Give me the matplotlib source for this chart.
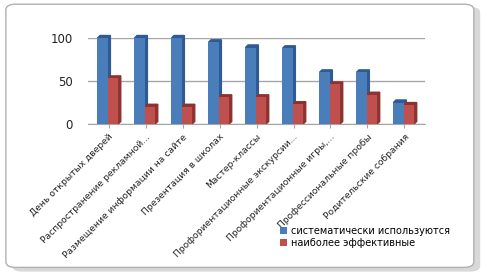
import matplotlib
matplotlib.use("Agg")
import matplotlib.pyplot as plt
from matplotlib.patches import FancyBboxPatch, Polygon
import numpy as np

categories = ["День открытых дверей", "Распространение рекламной...",
              "Размещение информации на сайте", "Презентация в школах",
              "Мастер-классы", "Профориентационные экскурсии...",
              "Профориентационные игры,...", "Профессиональные пробы",
              "Родительские собрания"]
systematic = [100, 100, 100, 95, 89, 88, 60, 60, 25]
effective = [53, 20, 20, 31, 31, 23, 46, 34, 22]
series_names = ["систематически используются", "наиболее эффективные"]

blue = "#4a7ebb"
blue_side = "#2f5a93"
red = "#c0504d"
red_side = "#8e3230"

plt.rcParams['font.family'] = ['DejaVu Sans']
fig = plt.figure(figsize=(4.9, 2.8), dpi=100)

# outer frame with shadow
shadow = FancyBboxPatch((0.025, 0.03), 0.955, 0.945, boxstyle="round,pad=0.0,rounding_size=0.02",
                        transform=fig.transFigure, facecolor="#d8d8d8", edgecolor="none", zorder=0)
frame = FancyBboxPatch((0.012, 0.045), 0.955, 0.94, boxstyle="round,pad=0.0,rounding_size=0.02",
                       transform=fig.transFigure, facecolor="white", edgecolor="#b0b0b0", lw=1.0, zorder=0.5)
fig.patches.extend([shadow, frame])

ax = fig.add_axes([0.18, 0.557, 0.687, 0.307])
ax.set_zorder(2)
ax.set_facecolor("none")
x = np.arange(len(categories))
w = 0.28
b1 = ax.bar(x - w / 2 - 0.02, systematic, w, color=blue, zorder=3, label=series_names[0])
b2 = ax.bar(x + w / 2 - 0.02, effective, w, color=red, zorder=3, label=series_names[1])

# simple 3D side faces
dx, dy = 0.07, 3
for bars, side in ((b1, blue_side), (b2, red_side)):
    for r in bars:
        r.set_clip_on(False)
        x0, x1, h = r.get_x(), r.get_x() + r.get_width(), r.get_height()
        ax.add_patch(Polygon([(x1, 0), (x1 + dx, dy), (x1 + dx, h + dy), (x1, h)],
                             closed=True, color=side, zorder=2.5, clip_on=False))
        ax.add_patch(Polygon([(x0, h), (x0 + dx, h + dy), (x1 + dx, h + dy), (x1, h)],
                             closed=True, color=side, zorder=2.6, clip_on=False))

ax.set_ylim(0, 100)
ax.set_xlim(-0.55, 8.55)
ax.set_yticks([0, 50, 100])
ax.yaxis.grid(True, color="#a6a6a6", lw=1, zorder=0)
ax.set_axisbelow(True)
for s in ["top", "right", "left"]:
    ax.spines[s].set_visible(False)
ax.spines["bottom"].set_color("#a6a6a6")
ax.tick_params(axis="y", length=0, labelsize=8.5, colors="#222222", pad=11)
ax.set_xticks(x)
ax.set_xticklabels(categories, rotation=45, ha="right", rotation_mode="anchor", fontsize=6.6, color="#222222")
ax.tick_params(axis="x", length=3, color="#a6a6a6", pad=3)

leg = fig.legend(handles=[b1, b2], labels=series_names, loc="upper left",
                 bbox_to_anchor=(0.56, 0.215), frameon=False, fontsize=7.0,
                 handlelength=0.7, handleheight=0.7, handletextpad=0.4, labelspacing=0.2,
                 borderpad=0.1)
leg.set_zorder(3)

fig.savefig("out.png", dpi=100)
